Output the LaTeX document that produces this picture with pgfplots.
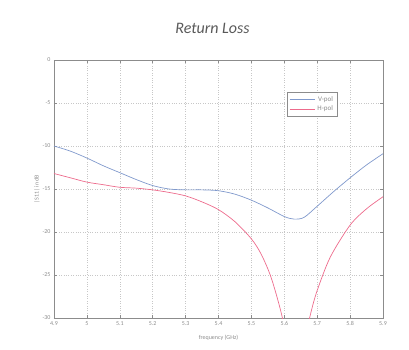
\documentclass[border=0pt]{standalone}
\usepackage{pgfplots}
\pgfplotsset{compat=1.18}
\usepackage{fontspec}
\setmainfont{Carlito}
\definecolor{vblue}{rgb}{0.50,0.60,0.80}
\definecolor{hred}{rgb}{0.93,0.42,0.55}
\definecolor{axgray}{rgb}{0.55,0.55,0.55}
\begin{document}
\begin{tikzpicture}[x=1pt,y=1pt]
\useasboundingbox (-54,-31) rectangle (355,318);
\begin{axis}[
  at={(0,0)}, anchor=south west,
  scale only axis, width=329pt, height=258pt,
  xmin=4.9, xmax=5.9, ymin=-30, ymax=0,
  xtick={4.9,5.0,5.1,5.2,5.3,5.4,5.5,5.6,5.7,5.8,5.9},
  xticklabels={4.9,5,5.1,5.2,5.3,5.4,5.5,5.6,5.7,5.8,5.9},
  ytick={-30,-25,-20,-15,-10,-5,0},
  /pgf/number format/assume math mode=true,
  tick label style={font=\fontsize{6}{7}\selectfont, text=axgray},
  axis line style={axgray, line width=0.9pt},
  tick style={axgray, line width=0.6pt},
  tick align=inside, major tick length=3pt,
  grid=major, grid style={dotted, black!22, line width=0.5pt},
  title={\textit{Return Loss}},
  title style={font=\fontsize{16}{18}\selectfont, text=black!65, at={(0.5,1)}, anchor=south, yshift=17pt, xshift=-6pt},
  xlabel={frequency (GHz)}, ylabel={|S11| in dB},
  label style={font=\fontsize{6}{7}\selectfont, text=axgray},
  xlabel style={yshift=-3pt},
  ylabel style={yshift=-4pt},
  legend style={at={(0.708,0.876)}, anchor=north west, font=\fontsize{7}{8}\selectfont, draw=axgray, line width=0.6pt, text=axgray, row sep=-1pt, inner sep=2pt},
  legend image post style={line width=0.6pt},
  legend image code/.code={\draw[#1] (0pt,0pt) -- (0.9cm,0pt);},
  legend cell align=right,
  clip=true,
]
\addplot[vblue, line width=0.7pt, smooth] coordinates {
(4.9,-10) (4.95,-10.6) (5.0,-11.4) (5.05,-12.3) (5.1,-13.1) (5.15,-13.9)
(5.2,-14.6) (5.25,-15.0) (5.3,-15.1) (5.35,-15.1) (5.4,-15.2) (5.45,-15.6)
(5.5,-16.3) (5.55,-17.2) (5.6,-18.2) (5.63,-18.5) (5.66,-18.3) (5.7,-17.0)
(5.75,-15.3) (5.8,-13.7) (5.85,-12.2) (5.9,-10.9)
};
\addlegendentry{V-pol}
\addplot[hred, line width=0.7pt, smooth] coordinates {
(4.9,-13.2) (4.95,-13.7) (5.0,-14.2) (5.05,-14.5) (5.1,-14.8) (5.15,-14.9)
(5.2,-15.1) (5.25,-15.4) (5.3,-15.8) (5.35,-16.5) (5.4,-17.4) (5.45,-18.8)
(5.5,-20.8) (5.53,-22.6) (5.56,-25.3) (5.59,-29.3) (5.61,-33) (5.635,-38)
(5.66,-33) (5.68,-29.5) (5.7,-26.8) (5.74,-22.9) (5.8,-19.2) (5.85,-17.3) (5.9,-15.9)
};
\addlegendentry{H-pol}
\end{axis}
\end{tikzpicture}
\end{document}
